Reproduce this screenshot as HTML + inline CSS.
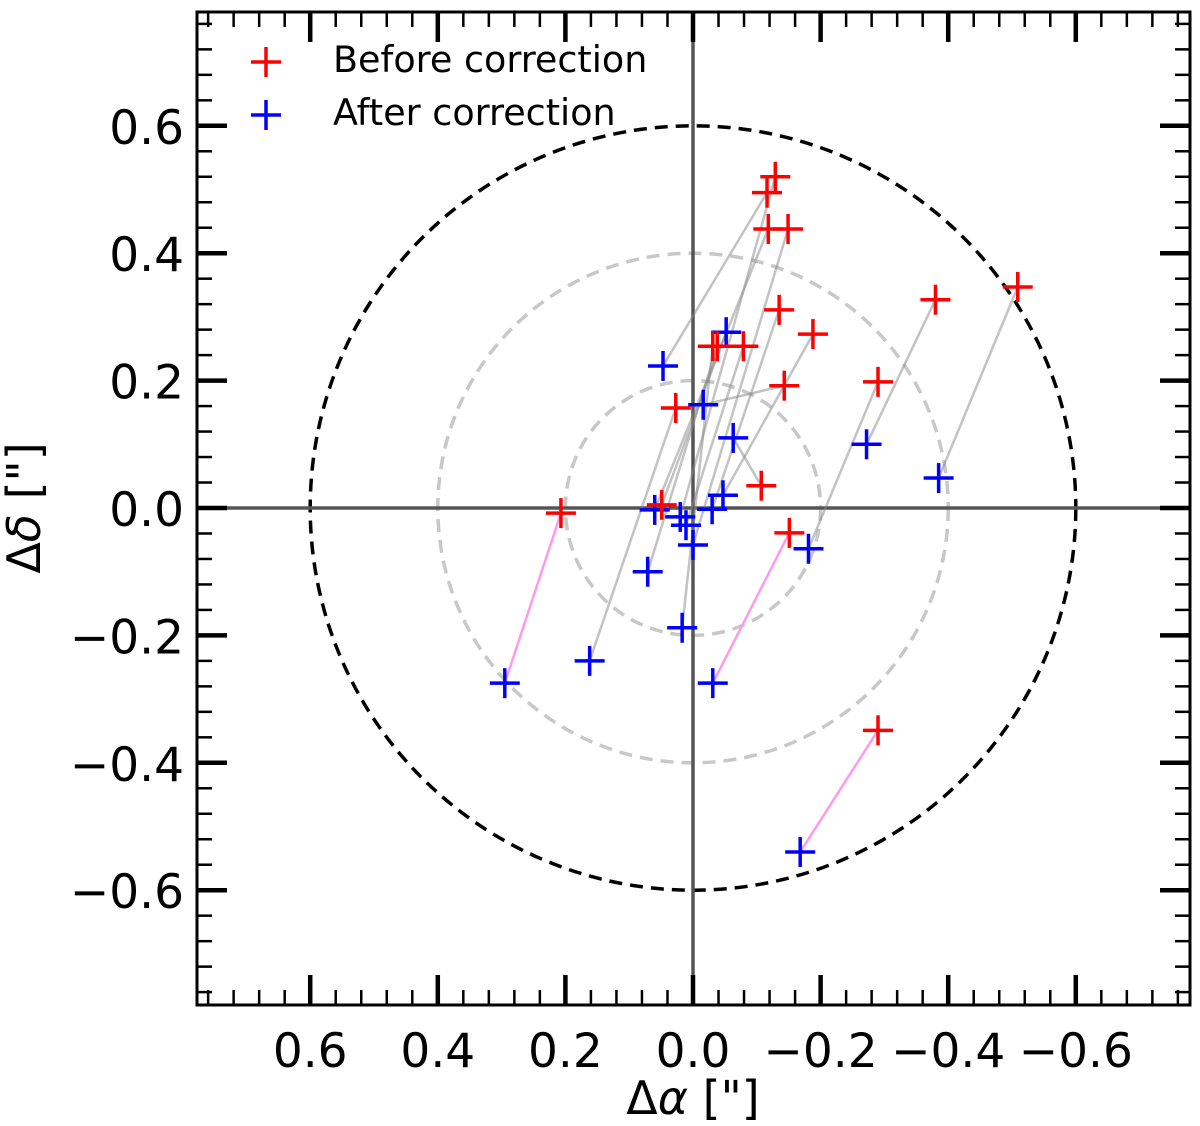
<!DOCTYPE html>
<html><head><meta charset="utf-8"><style>
body{margin:0;background:#fff}
svg{display:block;font-family:"DejaVu Sans","Liberation Sans",sans-serif}
</style></head><body>
<svg id="chart" width="1200" height="1126" viewBox="0 0 1200 1126" xmlns="http://www.w3.org/2000/svg">
<defs><clipPath id="clip"><rect x="197" y="12" width="993" height="993"/></clipPath></defs>
<g id="plot" clip-path="url(#clip)"></g>
<g id="axes"></g>
<g>
  <g>
    <line x1="251" y1="62" x2="281" y2="62" stroke="#ff0000" stroke-width="3.5"/>
    <line x1="266" y1="47" x2="266" y2="77" stroke="#ff0000" stroke-width="3.5"/>
    <text x="333" y="72" font-size="36.5">Before correction</text>
  </g>
  <g>
    <line x1="251" y1="115" x2="281" y2="115" stroke="#0000ff" stroke-width="3.5"/>
    <line x1="266" y1="100" x2="266" y2="130" stroke="#0000ff" stroke-width="3.5"/>
    <text x="333" y="125" font-size="36.5">After correction</text>
  </g>
</g>
<text x="693" y="1114" font-size="46" text-anchor="middle">Δ<tspan font-style="italic">α</tspan> ["]</text>
<text transform="translate(40,508) rotate(-90)" font-size="46" text-anchor="middle">Δ<tspan font-style="italic">δ</tspan> ["]</text>
</svg>
<script>
const beforeX=[-0.129,-0.116,-0.118,-0.149,-0.135,-0.188,-0.031,-0.038,-0.079,-0.143,0.027,-0.107,0.049,-0.290,-0.380,-0.509,0.207,-0.151,-0.290];
const beforeY=[0.520,0.495,0.438,0.438,0.311,0.273,0.254,0.254,0.254,0.192,0.157,0.035,0.005,0.198,0.327,0.347,-0.008,-0.039,-0.349];
const afterX=[0.020,0.047,0.060,0.000,-0.030,-0.047,0.017,0.071,0.011,-0.016,0.162,-0.063,-0.052,-0.181,-0.272,-0.385,0.295,-0.031,-0.168];
const afterY=[-0.014,0.223,-0.003,-0.058,-0.002,0.020,-0.188,-0.100,-0.027,0.162,-0.240,0.110,0.276,-0.064,0.100,0.047,-0.275,-0.275,-0.540];
const pinkPairs=[16,17,18];
const circleRadii=[0.2,0.4,0.6];
const majorTicks=[-0.6,-0.4,-0.2,0.0,0.2,0.4,0.6];
const tickLabels=["\u22120.6","\u22120.4","\u22120.2","0.0","0.2","0.4","0.6"];

const NS="http://www.w3.org/2000/svg";
const L=197,R=1190,T=12,B=1005,X0=693,Y0=508,SX=638,SY=637;
const sx=v=>X0-v*SX, sy=v=>Y0-v*SY;
function mk(tag,attrs,parent){const e=document.createElementNS(NS,tag);for(const k in attrs)e.setAttribute(k,attrs[k]);parent.appendChild(e);return e;}
const plot=document.getElementById('plot'), axes=document.getElementById('axes');

circleRadii.forEach((r,i)=>{
  const c=mk('ellipse',{cx:sx(0),cy:sy(0),rx:r*SX,ry:r*SY,fill:'none',stroke:r===0.6?'#000':'#c8c8c8','stroke-width':3.5,'stroke-dasharray':'13,8'},plot);
  
  
});
const h=mk('line',{x1:L,x2:R,y1:sy(0),y2:sy(0),stroke:'#555','stroke-width':3.5},plot);


const v=mk('line',{x1:sx(0),x2:sx(0),y1:T,y2:B,stroke:'#555','stroke-width':3.5},plot);



beforeX.forEach((_,i)=>{
  const pink=pinkPairs.includes(i);
  const ln=mk('line',{x1:sx(beforeX[i]),y1:sy(beforeY[i]),x2:sx(afterX[i]),y2:sy(afterY[i]),stroke:pink?'#ff99ee':'#888','stroke-opacity':pink?1:0.5,'stroke-width':2.5},plot);
  
  
});
function plus(x,y,col,name){
  const g=mk('g',{},plot);
  
  
  mk('line',{x1:x-15,x2:x+15,y1:y,y2:y,stroke:col,'stroke-width':3.5},g);
  mk('line',{x1:x,x2:x,y1:y-15,y2:y+15,stroke:col,'stroke-width':3.5},g);
}
afterX.forEach((_,i)=>plus(sx(afterX[i]),sy(afterY[i]),'#0000ff','after-point'));
beforeX.forEach((_,i)=>plus(sx(beforeX[i]),sy(beforeY[i]),'#ff0000','before-point'));

const fr=mk('rect',{x:L,y:T,width:R-L,height:B-T,fill:'none',stroke:'#000','stroke-width':3},axes);


for(let k=-19;k<=19;k++){
  const val=k*0.04; const major=(k%5===0); const len=major?30:15; const w=major?4.5:2.5;
  const x=sx(val), y=sy(val);
  if(x>L+1&&x<R-1){
    mk('line',{x1:x,x2:x,y1:B,y2:B-len,stroke:'#000','stroke-width':w},axes);
    mk('line',{x1:x,x2:x,y1:T,y2:T+len,stroke:'#000','stroke-width':w},axes);
  }
  if(y>T+1&&y<B-1){
    mk('line',{x1:L,x2:L+len,y1:y,y2:y,stroke:'#000','stroke-width':w},axes);
    mk('line',{x1:R,x2:R-len,y1:y,y2:y,stroke:'#000','stroke-width':w},axes);
  }
}
majorTicks.forEach((t,i)=>{
  const tx=mk('text',{x:sx(t),y:1067,'font-size':47,'text-anchor':'middle'},axes);
  tx.textContent=tickLabels[i];
  
  
  const ty=mk('text',{x:184,y:sy(t)+18,'font-size':47,'text-anchor':'end'},axes);
  ty.textContent=tickLabels[i];
  
  
});
</script>
</body></html>
